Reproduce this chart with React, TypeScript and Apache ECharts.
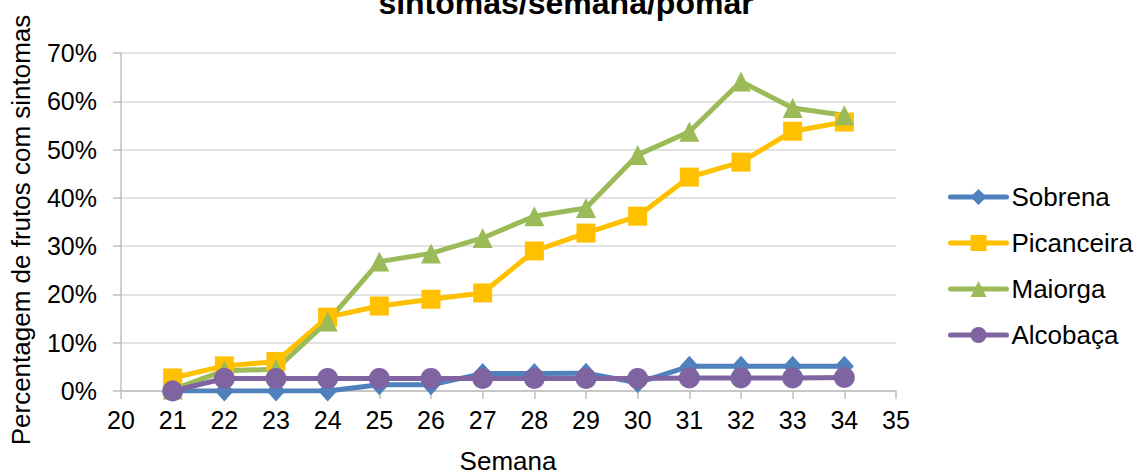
import React, { useEffect, useRef } from "react";
import * as echarts from "echarts";

const weeks = [21, 22, 23, 24, 25, 26, 27, 28, 29, 30, 31, 32, 33, 34];
const sobrena = [0, 0, 0, 0, 1.3, 1.3, 3.6, 3.6, 3.7, 1.7, 5.1, 5.1, 5.1, 5.1];
const picanceira = [2.7, 5.2, 6.1, 15.3, 17.6, 19.0, 20.3, 29.0, 32.7, 36.2, 44.3, 47.4, 53.8, 55.7];
const maiorga = [0.3, 4.2, 4.5, 14.4, 26.8, 28.5, 31.7, 36.2, 37.9, 48.9, 53.7, 64.1, 58.6, 57.1];
const alcobaca = [0, 2.6, 2.6, 2.6, 2.6, 2.6, 2.6, 2.6, 2.6, 2.6, 2.7, 2.7, 2.7, 2.8];

const seriesNames = ["Sobrena", "Picanceira", "Maiorga", "Alcobaça"];
const seriesColors = ["#4F81BD", "#FFC000", "#9BBB59", "#8064A2"];
const seriesSymbols = ["diamond", "rect", "triangle", "circle"];
const seriesSizes: any[] = [[19, 21], 19, 20, 21];
const seriesValues = [sobrena, picanceira, maiorga, alcobaca];

const titleText = "sintomas/semana/pomar";
const yTitle = "Percentagem de frutos com sintomas";
const xTitle = "Semana";

const FONT = "'Liberation Sans', Arial, sans-serif";

export default function App() {
  const ref = useRef<HTMLDivElement>(null);
  useEffect(() => {
    if (!ref.current) return;
    const chart = echarts.init(ref.current, undefined, { renderer: "svg" });
    chart.setOption({
      animation: false,
      backgroundColor: "#ffffff",
      textStyle: { fontFamily: FONT },
      grid: { left: 121, right: 238, top: 53, bottom: 79, containLabel: false },
      graphic: [
        {
          type: "text",
          x: 566,
          y: 3,
          style: {
            text: titleText,
            font: `bold 32px ${FONT}`,
            fill: "#000",
            textAlign: "center",
            textVerticalAlign: "middle",
          },
        },
        {
          type: "text",
          x: 21,
          y: 230,
          rotation: Math.PI / 2,
          style: {
            text: yTitle,
            font: `26px ${FONT}`,
            fill: "#000",
            textAlign: "center",
            textVerticalAlign: "middle",
          },
        },
        {
          type: "text",
          x: 508,
          y: 461,
          style: {
            text: xTitle,
            font: `26px ${FONT}`,
            fill: "#000",
            textAlign: "center",
            textVerticalAlign: "middle",
          },
        },
      ],
      legend: {
        orient: "vertical",
        left: 943,
        top: 179,
        itemWidth: 56,
        itemHeight: 20,
        itemGap: 20,
        lineStyle: { width: 5, cap: "round" },
        textStyle: { fontSize: 26, color: "#000", fontFamily: FONT },
        data: seriesNames,
      },
      xAxis: {
        type: "value",
        min: 20,
        max: 35,
        interval: 1,
        axisLine: { show: true, lineStyle: { color: "#BFBFBF", width: 1.5 } },
        axisTick: { show: true, length: 8, lineStyle: { color: "#BFBFBF", width: 1.5 } },
        axisLabel: { fontSize: 25, color: "#000", margin: 16, fontFamily: FONT },
        splitLine: { show: false },
      },
      yAxis: {
        type: "value",
        min: 0,
        max: 70,
        interval: 10,
        axisLine: { show: true, lineStyle: { color: "#BFBFBF", width: 1.5 } },
        axisTick: { show: true, length: 8, lineStyle: { color: "#BFBFBF", width: 1.5 } },
        axisLabel: {
          fontSize: 25,
          color: "#000",
          margin: 24,
          fontFamily: FONT,
          formatter: (v: number) => `${Math.round(v)}%`,
        },
        splitLine: { show: true, lineStyle: { color: "#D9D9D9", width: 1.5 } },
      },
      series: seriesNames.map((name, i) => ({
        name,
        type: "line",
        data: weeks.map((w, j) => [w, seriesValues[i][j]]),
        symbol: seriesSymbols[i],
        symbolSize: seriesSizes[i],
        showAllSymbol: true,
        lineStyle: { color: seriesColors[i], width: 5 },
        itemStyle: { color: seriesColors[i], borderWidth: 0 },
        color: seriesColors[i],
        emphasis: { disabled: true },
      })),
    });
    return () => chart.dispose();
  }, []);
  return (
    <div
      ref={ref}
      style={{ position: "absolute", left: 0, top: 0, width: 1134, height: 470, overflow: "hidden" }}
    />
  );
}
